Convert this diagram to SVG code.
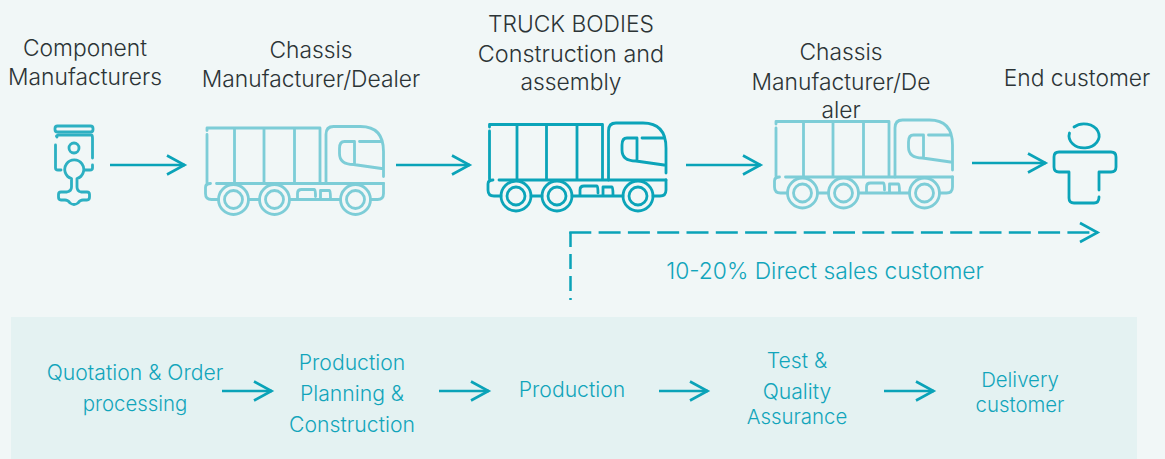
<svg xmlns="http://www.w3.org/2000/svg" width="1165" height="459" viewBox="0 0 1165 459">
<style>
.bg{fill:#f1f7f7}.band{fill:#e4f2f2}
text{font-family:Inter,"Liberation Sans",sans-serif;font-weight:300;text-anchor:middle}
.d{font-size:22.800px;fill:#2c3436}
.c{font-size:21.200px;fill:#12a5bb}
.n{font-size:20.400px;fill:#12a5bb}
.s{font-size:22.800px;fill:#12a5bb}
.a{fill:none;stroke:#0aa3b8;stroke-width:2.500}
.i{fill:none;stroke:#0ba4b9;stroke-width:2.800;stroke-linecap:round;stroke-linejoin:round}
.f{opacity:.5}
</style>
<defs>
<marker id="h" markerUnits="userSpaceOnUse" markerWidth="24" markerHeight="24" refX="20" refY="12" orient="auto" overflow="visible"><path d="M2 2.500 L19.500 12 L2 21.500" fill="none" stroke="#0aa3b8" stroke-width="2.600"/></marker>
<g id="truck">
<path d="M489.500 127V124.500H602.500V180M489.500 131V179M517 124.500V180M546.500 124.500V180M577 124.500V180M499 180H666"/>
<path d="M608.500 180V131Q608.500 123 616 123H643Q666 123 666 148V173M666 180V190Q666 196 660 196H653M637 138H627Q622 138 622 145V150Q622 161 636 161L664 165M637 138V161M642 138H664"/>
<path d="M493 180Q488 180 488 184V190Q488 196 494 196H501M531 196H542M572 196H623"/>
<path d="M580 195V190Q580 186 584 186H597Q598 187 598 193M603 195V187H612Q613 187 613 195"/>
<circle cx="516" cy="196" r="15"/><circle cx="516" cy="196" r="9"/>
<circle cx="557" cy="196" r="15"/><circle cx="557" cy="196" r="9"/>
<circle cx="638" cy="196" r="15"/><circle cx="638" cy="196" r="9"/>
</g>
</defs>
<rect class="bg" width="1165" height="459"/>
<rect class="band" x="11" y="317" width="1126" height="142"/>
<g id="connectors">
<path class="a" marker-end="url(#h)" d="M110 165H185"/>
<path class="a" marker-end="url(#h)" d="M396 165H470"/>
<path class="a" marker-end="url(#h)" d="M686 165H761"/>
<path class="a" marker-end="url(#h)" d="M972 163H1046"/>
<path class="a" stroke-dasharray="15 7" d="M570.500 232V300"/>
<path class="a" stroke-dasharray="22 7.300" marker-end="url(#h)" d="M569.300 232.500H1098"/>
<path class="a" marker-end="url(#h)" d="M222 391H272"/>
<path class="a" marker-end="url(#h)" d="M439 391H489"/>
<path class="a" marker-end="url(#h)" d="M659 391H708"/>
<path class="a" marker-end="url(#h)" d="M884 391H934"/>
</g>
<g id="component-manufacturers">
<text class="d" x="85" y="56">Component</text><text class="d" x="85" y="85">Manufacturers</text>
<g class="i" opacity=".85">
<rect x="55" y="126" width="38" height="6" rx="2.500"/>
<path d="M57 137Q55.500 136 58 135H91Q92.500 135 92.500 138V158M92.500 165V168Q92.500 170 90 170H85M55.500 145V168Q55.500 170 58 170H61"/>
<circle cx="74" cy="148" r="5"/>
<path d="M71.500 178.500V187Q71.500 191 67 192H61Q58.500 192 58.500 194.500V197Q58.500 200 61 200H65Q68 200 70 203Q74 206 78 203Q80 200 83 200H87Q89.500 200 89.500 197V194.500Q89.500 192 87 192H81Q77 191 77 187V178.500A9.500 9.500 0 1 0 71.500 178.500Z"/>
</g>
</g>
<g id="chassis-dealer-1">
<text class="d" x="311" y="58">Chassis</text><text class="d" x="311" y="87">Manufacturer/Dealer</text>
<use href="#truck" class="i f" transform="translate(-282.500 3.500)"/>
</g>
<g id="truck-bodies">
<text class="d" x="571" y="32">TRUCK BODIES</text><text class="d" x="571" y="62" font-size="23.400" style="font-size:23.400px">Construction and</text><text class="d" x="571" y="90">assembly</text>
<use href="#truck" class="i"/>
</g>
<g id="chassis-dealer-2">
<text class="d" x="841" y="60">Chassis</text><text class="d" x="841" y="90">Manufacturer/De</text><text class="d" x="841" y="118">aler</text>
<use href="#truck" class="i f" transform="translate(286.500 -3)"/>
</g>
<g id="end-customer">
<text class="d" x="1077" y="86">End customer</text>
<g class="i">
<path d="M1074 127A15 12 0 1 1 1069.500 133"/>
<path d="M1099 190V172H1111Q1116 172 1116 167V157Q1116 152 1111 152H1059Q1054 152 1054 157V167Q1054 172 1059 172H1069V198Q1069 203 1074 203H1094Q1099 203 1099 197"/>
</g>
</g>
<g id="direct-sales"><text class="s" x="825" y="279">10-20% Direct sales customer</text></g>
<g id="step-quotation"><text class="c" x="135" y="379.500">Quotation &amp; Order</text><text class="n" x="135" y="410.500">processing</text></g>
<g id="step-planning"><text class="c" x="352" y="369.500">Production</text><text class="c" x="352" y="400.500">Planning &amp;</text><text class="c" x="352" y="431.500">Construction</text></g>
<g id="step-production"><text class="c" x="572" y="396.500">Production</text></g>
<g id="step-test"><text class="c" x="797" y="367.500">Test &amp;</text><text class="c" x="797" y="398.500">Quality</text><text class="n" x="797" y="423.500">Assurance</text></g>
<g id="step-delivery"><text class="n" x="1020" y="386.500">Delivery</text><text class="n" x="1020" y="411.500">customer</text></g>
</svg>
